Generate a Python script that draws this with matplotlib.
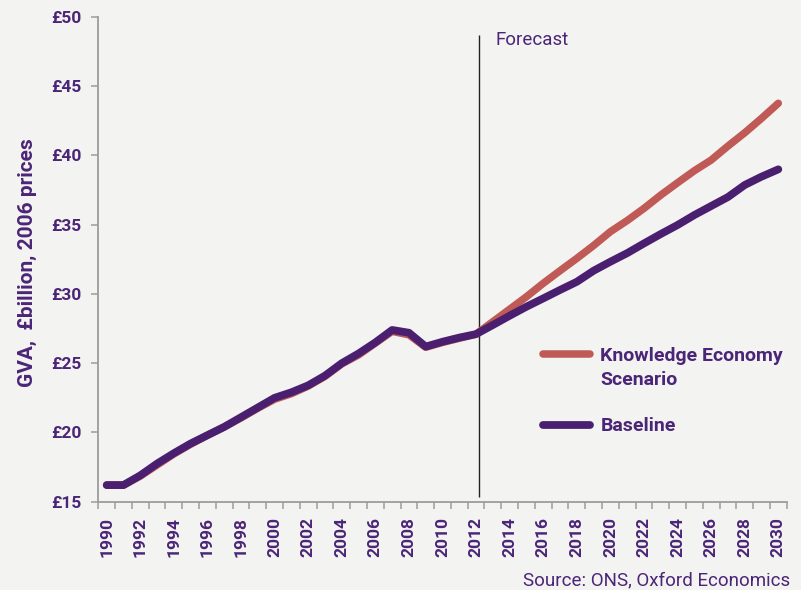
import matplotlib
matplotlib.use("Agg")
import matplotlib.pyplot as plt
import numpy as np
from matplotlib.legend_handler import HandlerLine2D

# ---- data ----
years = list(range(1990, 2031))
baseline = [16.2, 16.2, 16.9, 17.75, 18.5, 19.2, 19.8, 20.4, 21.1, 21.8,
            22.5, 22.9, 23.4, 24.1, 25.0, 25.7, 26.5, 27.4, 27.2, 26.2,
            26.55, 26.85, 27.1,
            27.76, 28.43, 29.08, 29.68, 30.29, 30.88, 31.68, 32.33, 32.95,
            33.65, 34.33, 34.98, 35.7, 36.35, 37.0, 37.87, 38.47, 39.0]
knowledge = [16.2, 16.2, 16.85, 17.65, 18.45, 19.15, 19.8, 20.4, 21.05, 21.75,
             22.4, 22.8, 23.35, 24.05, 24.95, 25.6, 26.45, 27.3, 27.05, 26.15,
             26.5, 26.8, 27.1,
             28.0, 28.9, 29.8, 30.77, 31.68, 32.57, 33.5, 34.5, 35.3,
             36.18, 37.14, 38.03, 38.9, 39.67, 40.68, 41.64, 42.68, 43.77]
series_labels = ["Knowledge Economy\nScenario", "Baseline"]
y_ticks = [15, 20, 25, 30, 35, 40, 45, 50]
y_tick_labels = ["£15", "£20", "£25", "£30", "£35", "£40", "£45", "£50"]
x_label_years = list(range(1990, 2031, 2))
forecast_year = 2012.15
forecast_span = (15.33, 48.7)
ylabel = "GVA,  £billion, 2006 prices"
source = "Source: ONS, Oxford Economics"

# ---- style ----
PURPLE = "#4A1F70"
TEXT = "#4B2577"
RED = "#C05A56"
GREY = "#9C9C9C"
BG = "#F3F3F1"
FONT = ["Roboto", "DejaVu Sans"]
plt.rcParams["font.family"] = FONT

W, H = 801, 590
AX_L, AX_R, AX_T, AX_B = 98.3, 786.7, 17.0, 501.7

fig = plt.figure(figsize=(W / 100, H / 100), dpi=100, facecolor=BG)
ax = fig.add_axes([AX_L / W, 1 - AX_B / H, (AX_R - AX_L) / W, (AX_B - AX_T) / H])
ax.set_facecolor(BG)

ax.plot(years, knowledge, color=RED, lw=5.4, solid_capstyle="round",
        solid_joinstyle="round", label=series_labels[0], zorder=3)
ax.plot(years, baseline, color=PURPLE, lw=5.6, solid_capstyle="round",
        solid_joinstyle="round", label=series_labels[1], zorder=4)

ax.vlines(forecast_year, forecast_span[0], forecast_span[1], color="#222222", lw=1.0, zorder=2)
ax.text(forecast_year + 1.0, 48.35, "Forecast", color=TEXT, fontsize=13.5,
        va="center", ha="left")

ax.set_xlim(years[0] - 0.5, years[-1] + 0.5)
ax.set_ylim(15, 50)

for s in ["top", "right"]:
    ax.spines[s].set_visible(False)
for s in ["left", "bottom"]:
    ax.spines[s].set_color(GREY)
    ax.spines[s].set_linewidth(1.3)

ax.set_yticks(y_ticks)
ax.set_yticklabels(y_tick_labels)
ax.tick_params(axis="y", direction="out", length=5, width=1.1, color=GREY,
               labelcolor=TEXT, labelsize=12.5, pad=7)
for t in ax.get_yticklabels():
    t.set_fontweight("bold")

ax.set_xticks(x_label_years)
ax.set_xticklabels([str(y) for y in x_label_years], rotation=90)
ax.set_xticks(np.arange(years[0] - 0.5, years[-1] + 1.0, 1.0), minor=True)
ax.tick_params(axis="x", which="major", length=0, labelcolor=TEXT, labelsize=12.5, pad=11)
ax.tick_params(axis="x", which="minor", direction="out", length=5, width=1.1, color=GREY)
for t in ax.get_xticklabels():
    t.set_fontweight("bold")

ax.set_ylabel(ylabel, color=TEXT, fontsize=15, fontweight="bold")
ax.yaxis.set_label_coords((37 - AX_L) / (AX_R - AX_L), (AX_B - 263) / (AX_B - AX_T))


class HandlerShift(HandlerLine2D):
    def __init__(self, shift=0.0, **kw):
        super().__init__(**kw)
        self.shift = shift

    def create_artists(self, legend, orig_handle, xdescent, ydescent, width, height,
                       fontsize, trans):
        return super().create_artists(legend, orig_handle, xdescent, ydescent - self.shift,
                                      width, height, fontsize, trans)


handles, labels = ax.get_legend_handles_labels()
leg = ax.legend(handles, labels, loc="upper left",
                bbox_to_anchor=(543 / W, 1 - 347 / H), bbox_transform=fig.transFigure,
                frameon=False, borderpad=0, borderaxespad=0, handlelength=2.4,
                handletextpad=0.55, labelspacing=1.45,
                prop={"size": 14, "weight": "bold"},
                handler_map={handles[0]: HandlerShift(shift=21)})
for t in leg.get_texts():
    t.set_color(TEXT)
    t.set_linespacing(1.45)

fig.text(790 / W, 1 - 580 / H, source, color=TEXT, fontsize=13.5, ha="right", va="center")

fig.savefig("out.png", dpi=100, facecolor=BG)
